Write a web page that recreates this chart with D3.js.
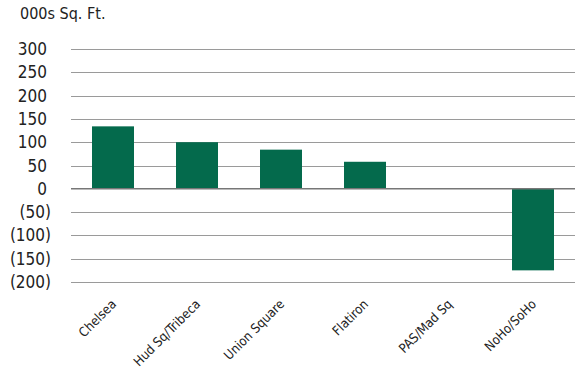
<!DOCTYPE html>
<html>
<head>
<meta charset="utf-8">
<script src="https://cdn.jsdelivr.net/npm/d3@7"></script>
<style>
  body { margin: 0; background: #fff; }
  svg text { font-family: "DejaVu Sans Condensed", "DejaVu Sans", sans-serif; font-stretch: condensed; fill: #222; }
</style>
</head>
<body>
<svg id="chart" width="582" height="373"></svg>
<script>
const categories = ["Chelsea", "Hud Sq/Tribeca", "Union Square", "Flatiron", "PAS/Mad Sq", "NoHo/SoHo"];
const values = [134, 100, 84, 58, 0, -175];
const tickValues = [300, 250, 200, 150, 100, 50, 0, -50, -100, -150, -200];
const unitLabel = "000s Sq. Ft.";

const svg = d3.select("#chart");

const x = d3.scaleBand().domain(categories).range([71, 575]).paddingInner(0.5).paddingOuter(0.25);
const y = d3.scaleLinear().domain([-200, 300]).range([282, 49]);

const fmt = (v) => (v < 0 ? `(${Math.abs(v)})` : `${v}`);

// gridlines
svg.append("g")
  .selectAll("line")
  .data(tickValues.filter((d) => d !== 0))
  .join("line")
  .attr("x1", 71)
  .attr("x2", 575)
  .attr("y1", (d) => Math.round(y(d)) + 0.5)
  .attr("y2", (d) => Math.round(y(d)) + 0.5)
  .attr("stroke", "#9a9a9a")
  .attr("stroke-width", 1);

// bars
svg.append("g")
  .selectAll("rect")
  .data(categories.map((c, i) => ({ c, v: values[i] })))
  .join("rect")
  .attr("x", (d) => x(d.c))
  .attr("width", x.bandwidth())
  .attr("y", (d) => y(Math.max(0, d.v)))
  .attr("height", (d) => Math.abs(y(d.v) - y(0)))
  .attr("fill", "#046a4c");

// zero line
svg.append("line")
  .attr("x1", 71)
  .attr("x2", 575)
  .attr("y1", y(0))
  .attr("y2", y(0))
  .attr("stroke", "#777")
  .attr("stroke-width", 1.5);

// y tick labels
svg.append("g")
  .selectAll("text")
  .data(tickValues)
  .join("text")
  .attr("x", (d) => (d < 0 ? 51 : 47))
  .attr("y", (d) => y(d) + 6)
  .attr("text-anchor", "end")
  .attr("font-size", 17)
  .text(fmt);

// unit label
svg.append("text")
  .attr("x", 20)
  .attr("y", 19)
  .attr("font-size", 16)
  .text(unitLabel);

// x labels
svg.append("g")
  .selectAll("text")
  .data(categories)
  .join("text")
  .attr("transform", (d) => `translate(${x(d) + x.bandwidth() / 2 + 4},${305}) rotate(-45)`)
  .attr("text-anchor", "end")
  .attr("font-size", 13)
  .text((d) => d);
</script>
</body>
</html>
